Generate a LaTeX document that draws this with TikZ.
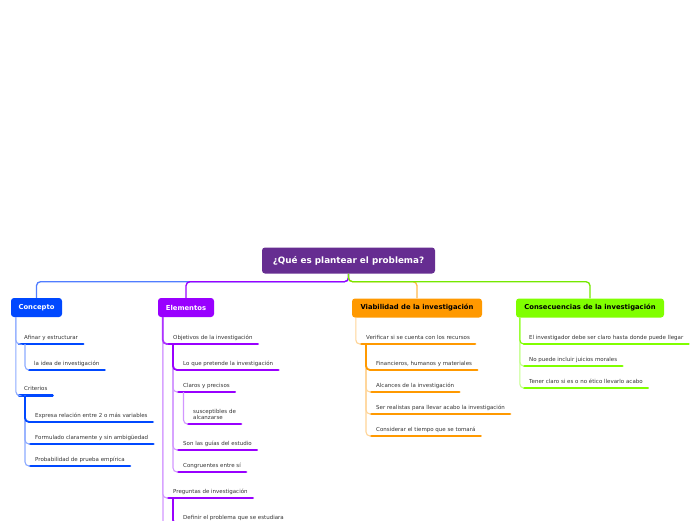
\documentclass[tikz,border=0pt]{standalone}
\usepackage{fontspec}
\setmainfont{DejaVu Sans}
\definecolor{rootc}{RGB}{102,45,145}
\definecolor{bluec}{RGB}{0,72,255}
\definecolor{bluel}{RGB}{140,170,255}
\definecolor{bluem}{RGB}{80,125,255}
\definecolor{purc}{RGB}{153,0,255}
\definecolor{purl}{RGB}{210,150,255}
\definecolor{orc}{RGB}{255,153,0}
\definecolor{orl}{RGB}{255,212,150}
\definecolor{grc}{RGB}{128,255,0}
\definecolor{grl}{RGB}{195,255,140}
\definecolor{txtc}{RGB}{51,51,51}
\tikzset{
  rootbox/.style={fill=rootc, text=white, rounded corners=3pt, minimum width=173pt,
    minimum height=26pt, inner sep=0pt, font=\fontsize{8.8}{10}\selectfont\bfseries},
  mainbox/.style={rounded corners=3pt, minimum height=19pt, inner sep=0pt,
    font=\fontsize{6.8}{8}\selectfont\bfseries},
  itemtxt/.style={inner sep=0pt, text depth=0pt, anchor=south west, align=left,
    text=txtc, font=\fontsize{5.5}{6}\selectfont},
  barline/.style={line width=2.6pt, line cap=round},
  rootconn/.style={line width=1.3pt, rounded corners=4pt},
  conna/.style={line width=1.1pt, rounded corners=4pt},
  connthick/.style={line width=1.8pt, rounded corners=4pt},
}
\newcommand\mmitem[5]{%
  \coordinate (#1-l) at (#2,#3);
  \node[itemtxt] (#1) at (#2+5,#3-4.5) {#5};
  \draw[barline,#4] (#1-l) -- (#1-l -| #1.east) -- ++(5,0);
}
\begin{document}
\begin{tikzpicture}[x=1pt,y=-1pt]
\clip (0,0) rectangle (696,520);
% root and main topics
\node[rootbox] (root) at (348.5,260.5) {¿Qué es plantear el problema?};
\node[mainbox, fill=bluec, text=white, minimum width=51pt] (concepto) at (36.5,307.5) {Concepto};
\node[mainbox, fill=purc, text=white, minimum width=56pt] (elementos) at (186,307.5) {Elementos};
\node[mainbox, fill=orc, text=black, minimum width=130pt] (viab) at (417,308) {Viabilidad de la investigación};
\node[mainbox, fill=grc, text=black, minimum width=148pt] (conse) at (590,308) {Consecuencias de la investigación};

% root connectors
\draw[rootconn, bluem] (root.south) -- ++(0,8) -| (concepto.north);
\draw[rootconn, orc!70] (root.south) -- ++(0,8) -| (viab.north);
\draw[rootconn, purc] (root.south) -- ++(0,8) -| (elementos.north);
\draw[rootconn, grc!85!black!60!grc] (root.south) -- ++(0,8) -| (conse.north);

% Concepto
\mmitem{afinar}{19}{344}{bluec}{Afinar y estructurar}
\mmitem{idea}{29}{370}{bluec}{la idea de investigación}
\mmitem{criterios}{19}{395.5}{bluec}{Criterios}
\mmitem{expresa}{30}{422}{bluec}{Expresa relación entre 2 o más variables}
\mmitem{formulado}{30}{444}{bluec}{Formulado claramente y sin ambigüedad}
\mmitem{probab}{30}{466}{bluec}{Probabilidad de prueba empírica}
\draw[conna, bluel] (concepto.south west) ++(5,0) |- (afinar-l);
\draw[conna, bluel] (concepto.south west) ++(5,0) |- (criterios-l);
\draw[conna, bluel] (afinar-l) ++(6,0) |- (idea-l);
\draw[conna, bluel] (criterios-l) ++(6,0) |- (probab-l);
\draw[conna, bluel] (criterios-l) ++(6,0) |- (formulado-l);
\draw[connthick, bluec] (criterios-l) ++(6,0) |- (expresa-l);

% Elementos
\mmitem{objetivos}{168}{344}{purc}{Objetivos de la investigación}
\mmitem{pretende}{178}{370}{purc}{Lo que pretende la investigación}
\mmitem{claros}{178}{392}{purc}{Claros y precisos}
\mmitem{suscep}{188}{424}{purc}{susceptibles de\\alcanzarse}
\mmitem{guias}{178}{450}{purc}{Son las guías del estudio}
\mmitem{congru}{178}{472}{purc}{Congruentes entre sí}
\mmitem{preguntas}{168}{498}{purc}{Preguntas de investigación}
\mmitem{definir}{178}{524}{purc}{Definir el problema que se estudiara}
\coordinate (elemmore) at (163,560);
\draw[conna, purl] (elementos.south west) ++(5,0) -- (elemmore);
\draw[conna, purl] (elementos.south west) ++(5,0) |- (preguntas-l);
\draw[connthick, purc!80] (elementos.south west) ++(5,0) |- (objetivos-l);
\draw[conna, purl] (objetivos-l) ++(5,0) |- (congru-l);
\draw[conna, purl] (objetivos-l) ++(5,0) |- (guias-l);
\draw[conna, purl] (objetivos-l) ++(5,0) |- (claros-l);
\draw[connthick, purc] (objetivos-l) ++(5,0) |- (pretende-l);
\draw[conna, purl] (claros-l) ++(5.5,0) |- (suscep-l);
\draw[connthick, purc] (preguntas-l) ++(5,0) |- (definir-l);

% Viabilidad
\mmitem{verificar}{361}{344}{orc}{Verificar si se cuenta con los recursos}
\mmitem{financ}{371}{370}{orc}{Financieros, humanos y materiales}
\mmitem{alcances}{371}{392}{orc}{Alcances de la investigación}
\mmitem{realistas}{371}{414}{orc}{Ser realistas para llevar acabo la investigación}
\mmitem{tiempo}{371}{436}{orc}{Considerar el tiempo que se tomará}
\draw[conna, orl] (viab.south west) ++(4,0) |- (verificar-l);
\draw[conna, orl] (verificar-l) ++(5,0) |- (tiempo-l);
\draw[conna, orl] (verificar-l) ++(5,0) |- (realistas-l);
\draw[conna, orl] (verificar-l) ++(5,0) |- (alcances-l);
\draw[connthick, orc] (verificar-l) ++(5,0) |- (financ-l);

% Consecuencias
\mmitem{investig}{524}{344}{grc}{El investigador debe ser claro hasta donde puede llegar}
\mmitem{juicios}{524}{366}{grc}{No puede incluir juicios morales}
\mmitem{etico}{524}{388}{grc}{Tener claro si es o no ético llevarlo acabo}
\draw[conna, grl] (conse.south west) ++(4,0) |- (etico-l);
\draw[conna, grl] (conse.south west) ++(4,0) |- (juicios-l);
\draw[conna, grc] (conse.south west) ++(4,0) |- (investig-l);
\end{tikzpicture}
\end{document}
